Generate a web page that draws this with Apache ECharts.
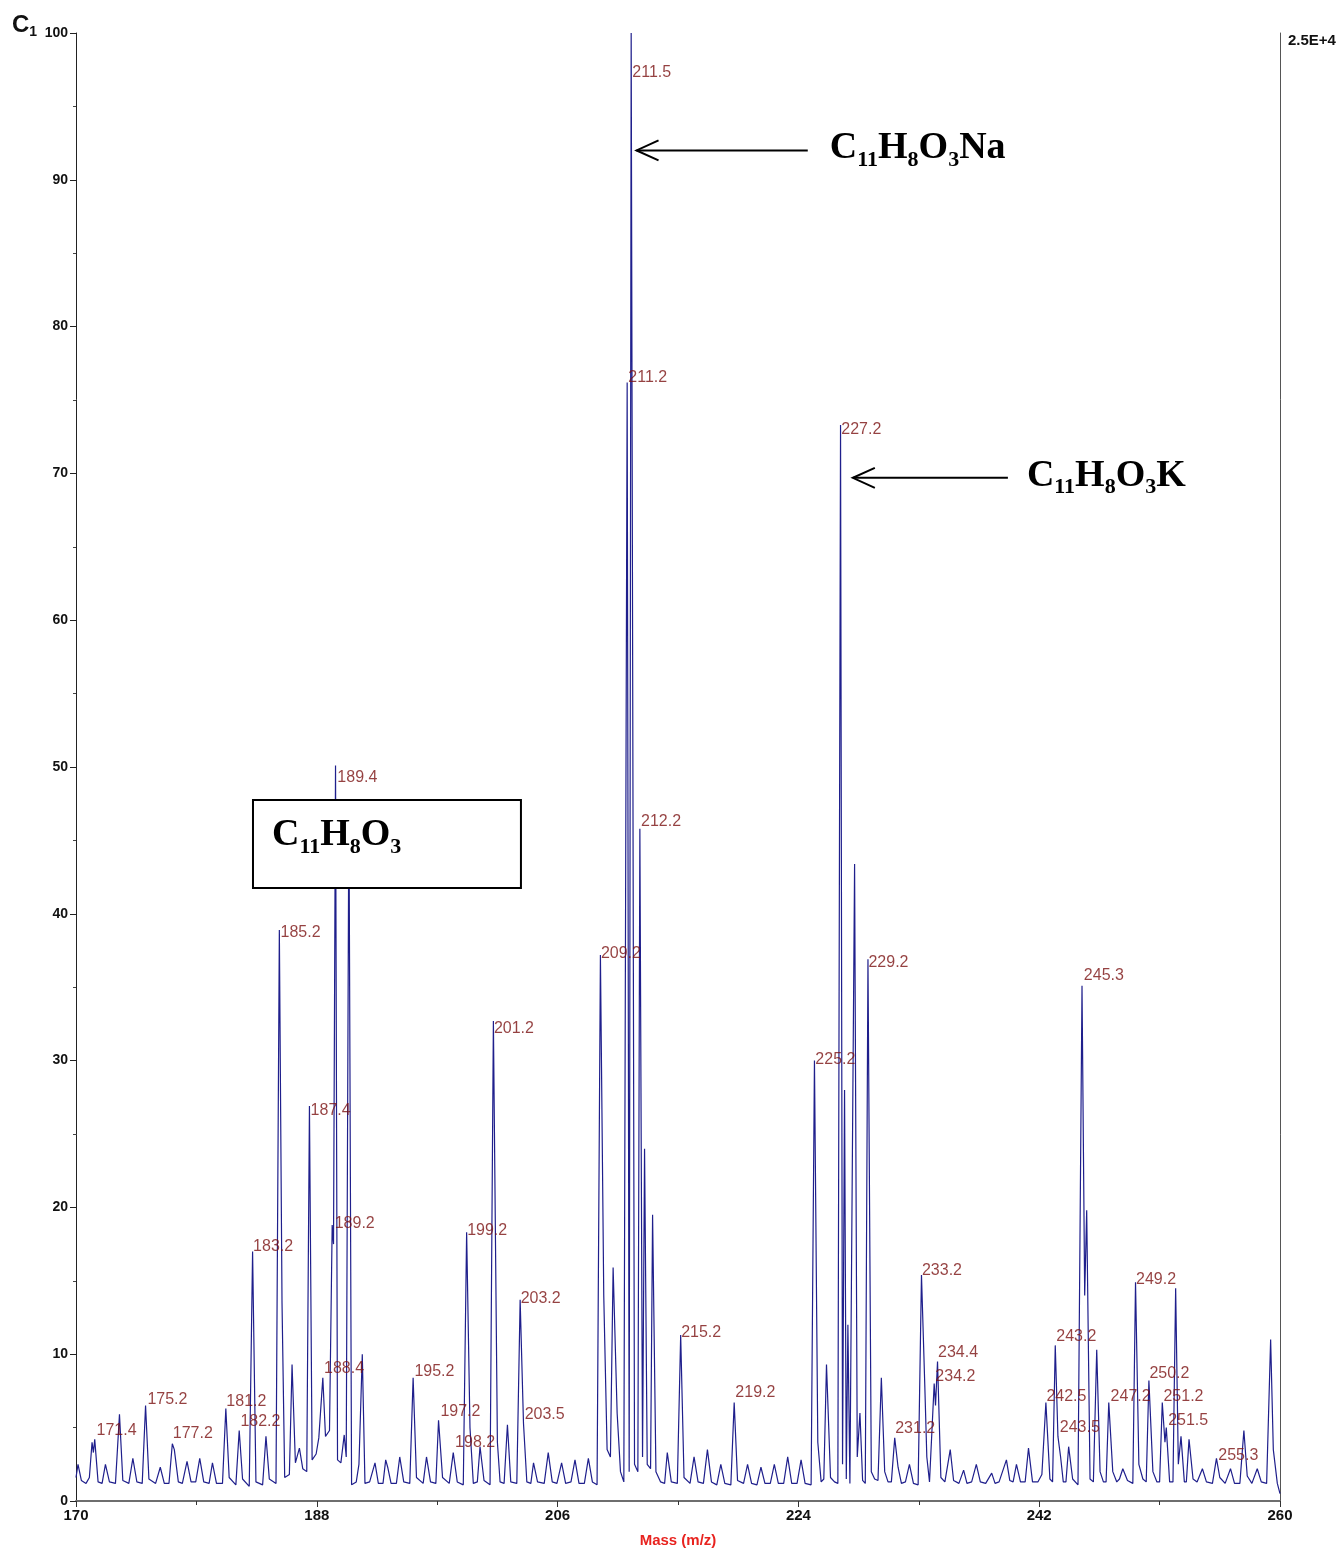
<!DOCTYPE html>
<html><head><meta charset="utf-8">
<script src="https://cdn.jsdelivr.net/npm/echarts@6/dist/echarts.min.js"></script>
<style>html,body{margin:0;padding:0;background:#fff}#c{width:1343px;height:1553px}</style>
</head><body><div id="c"></div>
<script>
// ---- axis ticks ----
const xTicks = [170, 188, 206, 224, 242, 260];
const yTicks = [0, 10, 20, 30, 40, 50, 60, 70, 80, 90, 100];

// ---- spectrum profile [m/z, relative intensity %] ----
const profile170 = [[170.0,1.6],[170.15,2.5],[170.4,1.4],[170.75,1.2],[171.0,1.6],[171.2,4.0],[171.3,3.3],[171.4,4.2],[171.65,1.3],[171.95,1.2],[172.2,2.5],[172.5,1.3],[172.95,1.2],[173.25,5.9],[173.5,1.4],[173.95,1.2],[174.25,2.9],[174.55,1.3],[174.95,1.2],[175.2,6.5],[175.45,1.5],[175.95,1.2],[176.3,2.3],[176.6,1.2],[176.95,1.2],[177.2,3.9],[177.35,3.5],[177.65,1.3],[177.95,1.2],[178.3,2.7],[178.6,1.3],[178.95,1.3],[179.25,2.9],[179.55,1.3],[179.95,1.2],[180.2,2.6],[180.5,1.2],[180.95,1.2],[181.2,6.3],[181.45,1.6],[181.95,1.1],[182.2,4.8],[182.45,1.5],[182.95,1.0],[183.2,17.0],[183.45,1.3],[183.95,1.1],[184.2,4.4],[184.45,1.5],[184.95,1.2],[185.2,38.9],[185.4,13.5],[185.6,1.6],[185.95,1.8],[186.15,9.3],[186.4,2.6],[186.7,3.6],[186.95,2.2],[187.25,2.0],[187.45,26.9],[187.65,2.8],[187.95,3.2]];
const profile188 = [[188.15,4.3],[188.45,8.4],[188.65,4.4],[188.95,4.8],[189.15,18.8],[189.25,17.5],[189.4,50.1],[189.55,2.8],[189.8,2.6],[190.05,4.5],[190.2,3.0],[190.4,47.8],[190.6,1.1],[190.95,1.3],[191.15,2.5],[191.4,10.0],[191.6,1.2],[191.95,1.3],[192.35,2.6],[192.6,1.2],[192.95,1.2],[193.15,2.8],[193.3,2.3],[193.55,1.2],[193.95,1.2],[194.2,3.0],[194.5,1.3],[194.95,1.2],[195.2,8.4],[195.45,1.6],[195.95,1.2],[196.2,3.0],[196.5,1.3],[196.9,1.2],[197.1,5.5],[197.4,1.6],[197.9,1.2],[198.2,3.3],[198.5,1.3],[198.95,1.1],[199.2,18.3],[199.45,5.0],[199.7,1.2],[200.0,1.3],[200.2,3.7],[200.5,1.4],[200.95,1.1],[201.2,32.7],[201.5,4.0],[201.7,1.3],[202.0,1.2],[202.25,5.2],[202.5,1.3],[202.95,1.2],[203.2,13.7],[203.45,5.3],[203.7,1.3],[204.0,1.2],[204.2,2.6],[204.5,1.3],[205.0,1.2],[205.3,3.3],[205.6,1.3],[205.95,1.2]];
const profile206 = [[206.3,2.6],[206.6,1.2],[207.0,1.3],[207.3,2.8],[207.6,1.2],[208.0,1.2],[208.3,2.9],[208.6,1.3],[208.95,1.1],[209.2,37.2],[209.45,14.0],[209.7,3.5],[209.95,3.0],[210.15,15.9],[210.45,6.0],[210.7,2.0],[210.95,1.3],[211.2,76.2],[211.35,2.0],[211.5,100],[211.75,2.5],[212.0,2.0],[212.15,45.8],[212.35,3.0],[212.5,24.0],[212.7,2.5],[212.95,2.2],[213.1,19.5],[213.35,2.0],[213.7,1.3],[214.0,1.2],[214.2,3.3],[214.5,1.3],[214.95,1.2],[215.2,11.3],[215.45,1.6],[215.9,1.2],[216.2,3.0],[216.5,1.3],[216.9,1.2],[217.2,3.5],[217.5,1.3],[217.9,1.1],[218.2,2.5],[218.5,1.2],[218.95,1.1],[219.2,6.7],[219.45,1.4],[219.9,1.2],[220.2,2.5],[220.5,1.2],[220.9,1.1],[221.2,2.3],[221.5,1.2],[221.9,1.2],[222.2,2.5],[222.5,1.2],[222.9,1.2],[223.2,3.0],[223.5,1.2],[223.9,1.2]];
const profile224 = [[224.2,2.8],[224.5,1.2],[224.95,1.1],[225.2,30.0],[225.45,4.0],[225.7,1.3],[225.9,1.5],[226.1,9.3],[226.4,1.6],[226.7,1.3],[226.95,1.2],[227.15,73.3],[227.3,2.5],[227.45,28.0],[227.58,1.5],[227.7,12.0],[227.85,1.2],[228.2,43.4],[228.4,3.0],[228.6,6.0],[228.8,1.4],[229.0,1.2],[229.2,36.9],[229.45,2.0],[229.7,1.5],[229.95,1.4],[230.2,8.4],[230.45,2.0],[230.7,1.3],[230.95,1.3],[231.2,4.3],[231.45,2.3],[231.7,1.2],[232.0,1.3],[232.3,2.5],[232.6,1.2],[232.95,1.1],[233.2,15.4],[233.45,7.8],[233.6,3.0],[233.8,1.3],[234.15,8.0],[234.25,6.5],[234.4,9.5],[234.65,1.6],[234.95,1.3],[235.35,3.5],[235.6,1.4],[236.0,1.2],[236.35,2.1],[236.6,1.2],[236.95,1.3],[237.3,2.5],[237.6,1.3],[238.0,1.2],[238.45,1.9],[238.7,1.2],[239.0,1.3],[239.55,2.8],[239.8,1.4],[240.05,1.3],[240.3,2.5],[240.6,1.3],[240.95,1.3],[241.2,3.6],[241.5,1.3],[241.9,1.3]];
const profile242 = [[242.2,1.8],[242.5,6.7],[242.8,1.5],[243.0,1.3],[243.2,10.6],[243.4,4.4],[243.6,3.0],[243.8,1.3],[244.0,1.3],[244.2,3.7],[244.5,1.5],[244.9,1.1],[245.2,35.1],[245.4,14.0],[245.55,19.8],[245.8,1.5],[246.05,1.3],[246.3,10.3],[246.55,2.0],[246.8,1.3],[247.0,1.3],[247.2,6.7],[247.5,2.0],[247.8,1.3],[248.0,1.5],[248.25,2.2],[248.6,1.4],[249.0,1.2],[249.2,14.9],[249.45,2.5],[249.75,1.5],[250.0,1.3],[250.2,8.2],[250.5,2.0],[250.8,1.3],[251.0,1.3],[251.2,6.7],[251.4,4.0],[251.5,5.0],[251.75,1.3],[252.0,1.3],[252.2,14.5],[252.4,2.5],[252.6,4.4],[252.85,1.3],[253.0,1.3],[253.2,4.2],[253.5,1.5],[253.8,1.3],[254.2,2.2],[254.5,1.3],[254.95,1.2],[255.25,2.9],[255.5,1.6],[255.9,1.2],[256.3,2.2],[256.6,1.2],[257.0,1.2],[257.3,4.8],[257.55,1.7],[257.9,1.2],[258.3,2.2],[258.6,1.3],[259.0,1.2],[259.3,11.0],[259.5,3.5],[259.8,1.2],[260.0,0.5]];

// ---- peak labels: text, m/z of label, intensity level of label ----
const labelText = ['171.4','175.2','177.2','181.2','182.2','183.2','185.2','187.4','188.4','189.2','189.4','195.2','197.2','198.2','199.2','201.2','203.2','203.5','209.2','211.5','211.2','212.2','215.2','219.2','225.2','227.2','229.2','231.2','233.2','234.4','234.2','242.5','243.2','243.5','245.3','247.2','249.2','250.2','251.2','251.5','255.3'];
const labelMz   = [171.5,175.3,177.2,181.2,182.25,183.2,185.25,187.5,188.5,189.3,189.5,195.26,197.2,198.3,199.2,201.2,203.2,203.5,209.2,211.55,211.25,212.2,215.2,219.25,225.23,227.17,229.2,231.2,233.2,234.4,234.2,242.5,243.24,243.5,245.3,247.3,249.2,250.2,251.25,251.6,255.35];
const labelAt   = [4.8,6.9,4.6,6.8,5.4,17.3,38.7,26.6,9.0,18.9,49.3,8.8,6.1,4.0,18.4,32.2,13.8,5.9,37.3,97.3,76.5,46.3,11.5,7.4,30.1,73.0,36.7,4.9,15.7,10.1,8.5,7.1,11.2,5.0,35.8,7.1,15.1,8.7,7.1,5.5,3.1];

// ---- annotations (data coordinates) ----
const arrowNa = {from: [224.7, 92.0], to: [211.9, 92.0]};
const arrowK  = {from: [239.66, 69.7], to: [228.07, 69.7]};
const textNa  = {at: [226.35, 92.0], parts: [['C','n'],['11','s'],['H','n'],['8','s'],['O','n'],['3','s'],['Na','n']]};
const textK   = {at: [241.08, 69.7], parts: [['C','n'],['11','s'],['H','n'],['8','s'],['O','n'],['3','s'],['K','n']]};
const boxC    = {tl: [183.23, 47.75], br: [203.26, 41.76], at: [184.65, 45.2], parts: [['C','n'],['11','s'],['H','n'],['8','s'],['O','n'],['3','s']]};

const profile = [].concat(profile170, profile188, profile206, profile224, profile242);
const labelData = labelText.map((t, i) => [labelMz[i], labelAt[i], t]);

const chart = echarts.init(document.getElementById('c'), null, {renderer: 'canvas'});
const axisFont = 'Liberation Sans, Arial, sans-serif';
chart.setOption({
  animation: false,
  backgroundColor: '#fff',
  grid: {left: 76, right: 63, top: 33, bottom: 52, outerBoundsMode: 'none'},
  xAxis: {
    type: 'value', min: xTicks[0], max: xTicks[xTicks.length - 1], interval: 18,
    axisLine: {onZero: false, lineStyle: {color: '#6e6e6e', width: 2}},
    axisTick: {length: 6, lineStyle: {color: '#333', width: 1}},
    minorTick: {show: true, splitNumber: 2, length: 4, lineStyle: {color: '#333'}},
    splitLine: {show: false},
    axisLabel: {fontFamily: axisFont, fontWeight: 'bold', fontSize: 15, color: '#111', margin: 7},
    name: 'Mass (m/z)', nameLocation: 'middle', nameGap: 32,
    nameTextStyle: {fontFamily: axisFont, color: '#e8231f', fontWeight: 'bold', fontSize: 15}
  },
  yAxis: [{
    type: 'value', min: yTicks[0], max: yTicks[yTicks.length - 1], interval: 10, position: 'left',
    axisLine: {show: true, onZero: false, lineStyle: {color: '#222', width: 1}},
    axisTick: {show: true, length: 6, lineStyle: {color: '#222'}},
    minorTick: {show: true, splitNumber: 2, length: 3, lineStyle: {color: '#444'}},
    splitLine: {show: false},
    axisLabel: {fontFamily: axisFont, fontWeight: 'bold', fontSize: 14, color: '#111', margin: 8}
  }, {
    type: 'value', min: 0, max: 100, position: 'right',
    axisLine: {show: true, onZero: false, lineStyle: {color: '#555', width: 1}},
    axisTick: {show: false}, axisLabel: {show: false}, splitLine: {show: false}
  }],
  series: [{
    type: 'line', data: profile, showSymbol: false, symbol: 'none',
    lineStyle: {color: '#1f1f8c', width: 1.2}, z: 2
  }, {
    type: 'scatter', data: labelData, symbolSize: 1, itemStyle: {color: 'transparent'},
    label: {show: true, position: 'right', distance: 0, formatter: p => p.data[2],
      fontFamily: axisFont, fontSize: 16, color: '#7a1212'},
    z: 3, silent: true
  }]
});

function px(p) { return chart.convertToPixel({gridIndex: 0}, p); }
const serif = 'Liberation Serif, Times New Roman, serif';
function formula(def, size, subSize) {
  const p = px(def.at);
  return {
    type: 'text', x: p[0], y: p[1], z: 20,
    style: {
      text: def.parts.map(([t, k]) => '{' + k + '|' + t + '}').join(''),
      align: 'left', verticalAlign: 'middle',
      rich: {
        n: {fontFamily: serif, fontWeight: 'bold', fontSize: size, fill: '#000', lineHeight: size + 4, verticalAlign: 'top'},
        s: {fontFamily: serif, fontWeight: 'bold', fontSize: subSize, fill: '#000', lineHeight: subSize, verticalAlign: 'bottom'}
      }
    }
  };
}
function arrow(def) {
  const a = px(def.from), b = px(def.to);
  return [
    {type: 'line', z: 20, shape: {x1: a[0], y1: a[1], x2: b[0], y2: b[1]}, style: {stroke: '#000', lineWidth: 2}},
    {type: 'polyline', z: 20, shape: {points: [[b[0] + 22, b[1] - 10], [b[0], b[1]], [b[0] + 22, b[1] + 10]]}, style: {stroke: '#000', lineWidth: 2, fill: null}}
  ];
}
const tl = px(boxC.tl), br = px(boxC.br);
chart.setOption({
  graphic: [
    ...arrow(arrowNa), ...arrow(arrowK),
    formula(textNa, 38, 22), formula(textK, 38, 22),
    {type: 'rect', z: 15, shape: {x: tl[0], y: tl[1], width: br[0] - tl[0], height: br[1] - tl[1]}, style: {fill: '#fff', stroke: '#000', lineWidth: 2}},
    formula(boxC, 38, 22),
    {type: 'text', x: 12, y: 26, z: 20, style: {text: '{c|C}{s|1}', align: 'left', verticalAlign: 'middle',
      rich: {c: {fontFamily: axisFont, fontWeight: 'bold', fontSize: 24, fill: '#111', verticalAlign: 'top', lineHeight: 26},
             s: {fontFamily: axisFont, fontWeight: 'bold', fontSize: 14, fill: '#111', verticalAlign: 'bottom', lineHeight: 14}}}},
    {type: 'text', x: 1288, y: 41, z: 20, style: {text: '2.5E+4', align: 'left', verticalAlign: 'middle',
      fontFamily: axisFont, fontWeight: 'bold', fontSize: 15, fill: '#111'}}
  ]
});
</script></body></html>
